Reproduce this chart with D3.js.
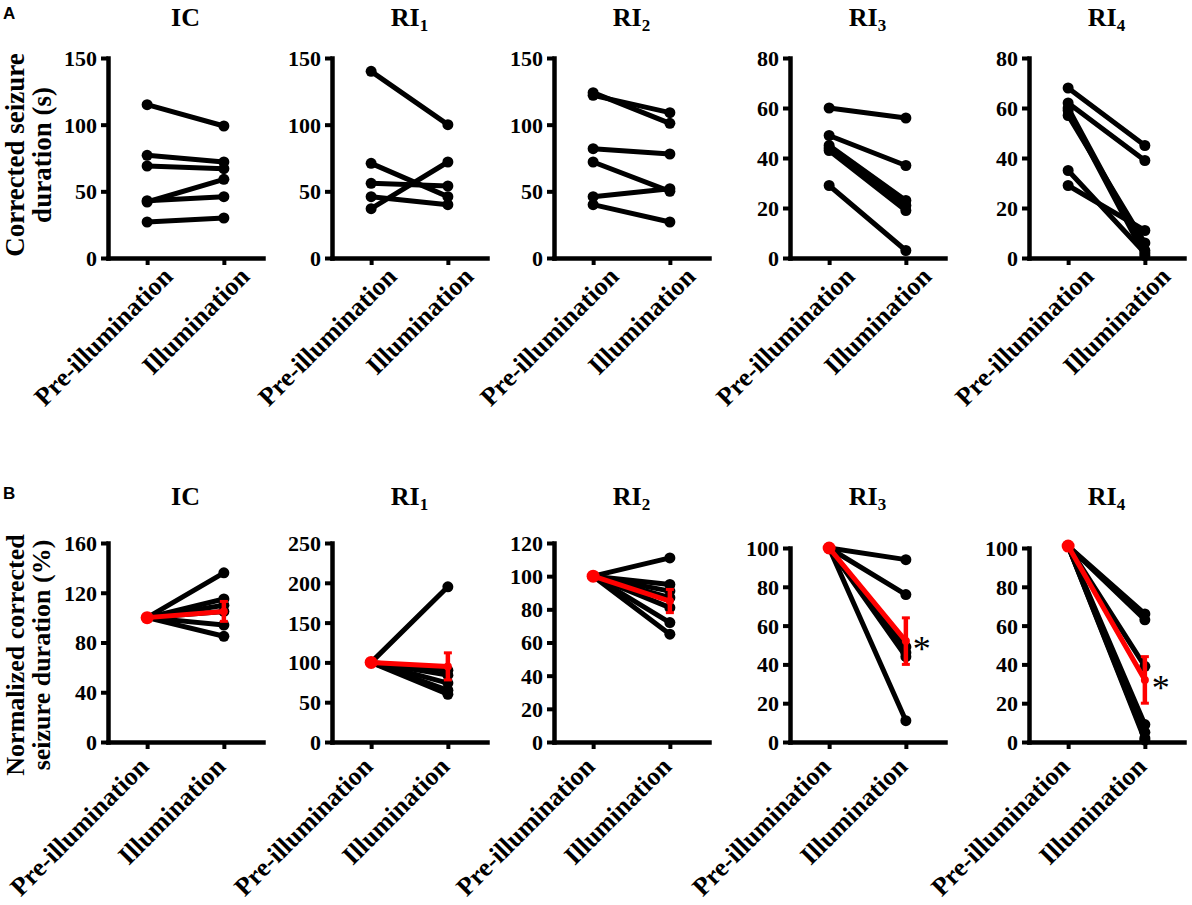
<!DOCTYPE html>
<html>
<head>
<meta charset="utf-8">
<script src="https://cdn.jsdelivr.net/npm/d3@7"></script>
<style>
  html, body { margin: 0; padding: 0; background: #fff; }
  svg { display: block; }
  .serif { font-family: "Liberation Serif", "Times New Roman", serif; font-weight: bold; }
</style>
</head>
<body>
<svg id="chart" width="1192" height="905"></svg>
<script>
// ---------- Data ----------
const groups = ["IC", "RI1", "RI2", "RI3", "RI4"];
const conditions = ["Pre-illumination", "Illumination"];

// Panel A: corrected seizure duration (s), paired pre / illumination
const icPreA  = [115, 77, 69, 42, 43, 27];
const icIllA  = [99, 72, 67, 59, 46, 30];
const ri1PreA = [140, 71, 56, 46, 37];
const ri1IllA = [100, 46, 54, 40, 72];
const ri2PreA = [124, 122, 82, 72, 46, 40];
const ri2IllA = [101, 109, 78, 50, 52, 27];
const ri3PreA = [60, 49, 45, 44, 43, 29];
const ri3IllA = [56, 37, 23, 21, 19, 3];
const ri4PreA = [68, 62, 60, 59, 57, 35, 29];
const ri4IllA = [45, 39, 3, 1, 6, 2, 11];

// Panel B: normalized corrected seizure duration (%)
const icPreB  = [100, 100, 100, 100, 100, 100];
const icIllB  = [136, 115, 110, 105, 94, 85];
const ri1PreB = [100, 100, 100, 100, 100, 100];
const ri1IllB = [195, 90, 84, 74, 65, 60];
const ri2PreB = [100, 100, 100, 100, 100, 100, 100];
const ri2IllB = [111, 95, 91, 87, 81, 72, 65];
const ri3PreB = [100, 100, 100, 100, 100, 100];
const ri3IllB = [94, 76, 49, 46, 44, 11];
const ri4PreB = [101, 101, 101, 101, 101, 101, 101];
const ri4IllB = [66, 63, 39, 9, 5, 2, 1];

// Group means (red) and SEM at illumination
const meanPreB = [100, 100, 100, 100, 101];
const meanIllB = [105, 95, 85, 52, 32];
const semIllB  = [8, 17, 7, 12, 12];
const significant = [false, false, false, true, true];

// Axis ticks
const ticksA = [[0, 50, 100, 150], [0, 50, 100, 150], [0, 50, 100, 150], [0, 20, 40, 60, 80], [0, 20, 40, 60, 80]];
const ticksB = [[0, 40, 80, 120, 160], [0, 50, 100, 150, 200, 250], [0, 20, 40, 60, 80, 100, 120], [0, 20, 40, 60, 80, 100], [0, 20, 40, 60, 80, 100]];

const preA = [icPreA, ri1PreA, ri2PreA, ri3PreA, ri4PreA];
const illA = [icIllA, ri1IllA, ri2IllA, ri3IllA, ri4IllA];
const preB = [icPreB, ri1PreB, ri2PreB, ri3PreB, ri4PreB];
const illB = [icIllB, ri1IllB, ri2IllB, ri3IllB, ri4IllB];

// ---------- Layout ----------
const svg = d3.select("#chart");
const axisXs = [108, 332, 554, 790, 1029];
const axisLen = 155;
const rowA = { zero: 258, top: 58 };
const rowB = { zero: 742, tops: [543, 543, 543, 548, 548] };

const serif = '"Liberation Serif", "Times New Roman", serif';

function title(g, name, x, y) {
  const t = g.append("text").attr("x", x).attr("y", y)
    .attr("text-anchor", "middle").attr("class", "serif").attr("font-size", 26);
  if (name.startsWith("RI")) {
    t.append("tspan").text("RI");
    t.append("tspan").attr("font-size", 17).attr("dy", 5).text(name.slice(2));
  } else {
    t.text(name);
  }
}

function drawPanel(i, row) {
  const ax = axisXs[i];
  const isA = row === "A";
  const zero = isA ? rowA.zero : rowB.zero;
  const top = isA ? rowA.top : rowB.tops[i];
  const ticks = isA ? ticksA[i] : ticksB[i];
  const y = d3.scaleLinear().domain([0, d3.max(ticks)]).range([zero, top]);
  const x = d3.scalePoint().domain(conditions).range([ax, ax + axisLen]).padding(0.51);

  const g = svg.append("g");

  // y axis
  const yAx = g.append("g").attr("transform", `translate(${ax},0)`)
    .call(d3.axisLeft(y).tickValues(ticks).tickSize(7).tickSizeOuter(0).tickPadding(4).tickFormat(d3.format("d")));
  yAx.attr("font-family", serif).attr("font-size", 22).attr("font-weight", "bold");
  // x axis
  const xAx = g.append("g").attr("transform", `translate(0,${zero})`)
    .call(d3.axisBottom(x).tickSize(7).tickSizeOuter(0).tickFormat(""));
  [yAx, xAx].forEach(a => {
    a.select(".domain").attr("stroke", "#000").attr("stroke-width", 4.5).attr("stroke-linecap", "square");
    a.selectAll(".tick line").attr("stroke", "#000").attr("stroke-width", 4);
  });
  yAx.selectAll(".tick text")
    .style("font-family", serif).style("font-weight", "bold").style("font-size", "22px")
    .attr("fill", "#000").attr("dy", "0.34em");

  // rotated x labels
  const offX = isA ? 27 : 3;
  const offY = isA ? 20 : 26;
  conditions.forEach(c => {
    g.append("text")
      .attr("transform", `translate(${x(c) + offX},${zero + offY}) rotate(-45)`)
      .attr("text-anchor", "end").attr("class", "serif").attr("font-size", 26)
      .text(c);
  });

  // title
  title(g, groups[i], (x(conditions[0]) + x(conditions[1])) / 2, isA ? 26 : 505);

  // paired lines
  const pre = isA ? preA[i] : preB[i];
  const ill = isA ? illA[i] : illB[i];
  const pairs = pre.map((p, k) => ({ p, q: ill[k] }));
  g.selectAll("line.pair").data(pairs).enter().append("line")
    .attr("x1", x(conditions[0])).attr("x2", x(conditions[1]))
    .attr("y1", d => y(d.p)).attr("y2", d => y(d.q))
    .attr("stroke", "#000").attr("stroke-width", 5).attr("stroke-linecap", "round");
  g.selectAll("circle.pre").data(pairs).enter().append("circle")
    .attr("cx", x(conditions[0])).attr("cy", d => y(d.p)).attr("r", 5.5).attr("fill", "#000");
  g.selectAll("circle.ill").data(pairs).enter().append("circle")
    .attr("cx", x(conditions[1])).attr("cy", d => y(d.q)).attr("r", 5.5).attr("fill", "#000");

  if (!isA) {
    const red = "#ff0000";
    const m0 = meanPreB[i], m1 = meanIllB[i], s = semIllB[i];
    const x0 = x(conditions[0]), x1 = x(conditions[1]);
    g.append("line").attr("x1", x0).attr("x2", x1).attr("y1", y(m0)).attr("y2", y(m1))
      .attr("stroke", red).attr("stroke-width", 5).attr("stroke-linecap", "round");
    g.append("circle").attr("cx", x0).attr("cy", y(m0)).attr("r", 6.5).attr("fill", red);
    g.append("circle").attr("cx", x1).attr("cy", y(m1)).attr("r", 4).attr("fill", red);
    g.append("line").attr("x1", x1).attr("x2", x1).attr("y1", y(m1 - s)).attr("y2", y(m1 + s))
      .attr("stroke", red).attr("stroke-width", 4.5);
    [m1 - s, m1 + s].forEach(v => {
      g.append("line").attr("x1", x1 - 4).attr("x2", x1 + 4).attr("y1", y(v)).attr("y2", y(v))
        .attr("stroke", red).attr("stroke-width", 3);
    });
    if (significant[i]) {
      g.append("text").attr("x", x1 + 7).attr("y", y(m1) + 20)
        .attr("font-family", serif).attr("font-size", 36).attr("fill", "#000").text("*");
    }
  }
}

for (let i = 0; i < groups.length; i++) { drawPanel(i, "A"); drawPanel(i, "B"); }

// panel letters
svg.append("text").attr("x", 3).attr("y", 19).attr("font-family", '"Liberation Sans", Arial, sans-serif')
  .attr("font-weight", "bold").attr("font-size", 17).text("A");
svg.append("text").attr("x", 3).attr("y", 499).attr("font-family", '"Liberation Sans", Arial, sans-serif')
  .attr("font-weight", "bold").attr("font-size", 17).text("B");

// y axis titles
function yTitle(lines, cy, xs, size) {
  lines.forEach((l, k) => {
    svg.append("text").attr("transform", `translate(${xs[k]},${cy}) rotate(-90)`)
      .attr("text-anchor", "middle").attr("class", "serif").attr("font-size", size).text(l);
  });
}
yTitle(["Corrected seizure", "duration (s)"], 155, [24, 51], 27);
yTitle(["Normalized corrected", "seizure duration (%)"], 655, [24, 50], 26);
</script>
</body>
</html>
